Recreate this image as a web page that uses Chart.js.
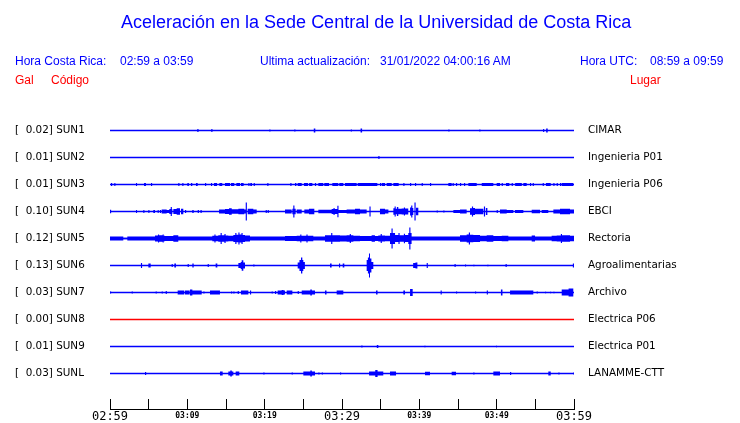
<!DOCTYPE html>
<html>
<head>
<meta charset="utf-8">
<script src="https://cdn.jsdelivr.net/npm/chart.js@4.4.1/dist/chart.umd.min.js"></script>
<style>
  body { margin: 0; background: #fff; }
  #wrap { position: absolute; left: 0; top: 0; width: 740px; height: 423px; }
  .t { position: absolute; font-family: "Liberation Sans", Arial, sans-serif; white-space: pre; line-height: 1; }
  .blue { color: #0000ff; font-size: 12px; }
  .red { color: #ff0000; font-size: 12px; }
  #title { color: #0000ff; font-size: 18px; left: 121px; top: 13px; }
</style>
</head>
<body>
<div id="wrap">
  <canvas id="chart"></canvas>
  <div class="t" id="title">Aceleración en la Sede Central de la Universidad de Costa Rica</div>
  <div class="t blue" style="left:15px;top:55px">Hora Costa Rica:</div>
  <div class="t blue" style="left:120px;top:55px">02:59 a 03:59</div>
  <div class="t blue" style="left:260px;top:55px">Ultima actualización:</div>
  <div class="t blue" style="left:380px;top:55px">31/01/2022 04:00:16 AM</div>
  <div class="t blue" style="left:580px;top:55px">Hora UTC:</div>
  <div class="t blue" style="left:650px;top:55px">08:59 a 09:59</div>
  <div class="t red" style="left:15px;top:74px">Gal</div>
  <div class="t red" style="left:51px;top:74px">Código</div>
  <div class="t red" style="left:630px;top:74px">Lugar</div>
</div>
<script>
// station info, top to bottom
var codes = ["SUN1", "SUN2", "SUN3", "SUN4", "SUN5", "SUN6", "SUN7", "SUN8", "SUN9", "SUNL"];
var gal = ["0.02", "0.01", "0.01", "0.10", "0.12", "0.13", "0.03", "0.00", "0.01", "0.03"];
var places = ["CIMAR", "Ingenieria P01", "Ingenieria P06", "EBCI", "Rectoria",
  "Agroalimentarias", "Archivo", "Electrica P06", "Electrica P01", "LANAMME-CTT"];
var lineColors = ["#0000ff", "#0000ff", "#0000ff", "#0000ff", "#0000ff",
  "#0000ff", "#0000ff", "#ff0000", "#0000ff", "#0000ff"];

// time axis: minutes after 02:59, labels every 10 min
var timeLabels = ["02:59", "03:09", "03:19", "03:29", "03:39", "03:49", "03:59"];

// amplitude envelopes: [start min, end min, half amplitude (fraction of row gap)]
var sun1 = [[11.29, 11.45, 0.06], [13.1, 13.25, 0.06], [20.6, 20.75, 0.04], [23.83, 23.98, 0.04],
  [26.35, 26.55, 0.075], [31.13, 31.28, 0.04], [32.4, 32.6, 0.075], [43.75, 43.9, 0.04],
  [47.76, 47.9, 0.04], [56.0, 56.15, 0.055], [56.4, 56.6, 0.075]];
var sun2 = [[34.7, 34.85, 0.055]];
var sun3 = [[0.13, 0.28, 0.06], [0.56, 0.7, 0.06], [3.36, 3.5, 0.06], [4.4, 4.65, 0.06], [5.3, 5.45, 0.06],
  [8.83, 8.98, 0.06], [9.35, 9.5, 0.06], [10.0, 10.2, 0.06], [10.47, 10.64, 0.06], [11.12, 11.34, 0.06],
  [12.29, 12.44, 0.06], [13.06, 13.2, 0.06], [13.45, 13.84, 0.06], [14.14, 14.52, 0.06], [14.87, 15.52, 0.06],
  [15.65, 16.07, 0.06], [16.34, 16.81, 0.06], [16.94, 17.28, 0.06], [17.89, 18.04, 0.06], [18.14, 18.36, 0.06],
  [18.58, 18.73, 0.06], [20.34, 20.49, 0.06], [23.32, 23.47, 0.06], [23.92, 24.1, 0.06], [24.27, 24.79, 0.06],
  [25.09, 25.6, 0.06], [25.75, 26.17, 0.06], [26.5, 26.65, 0.06], [26.94, 27.58, 0.06], [27.71, 28.32, 0.06],
  [28.75, 29.52, 0.06], [29.65, 30.17, 0.06], [30.39, 31.9, 0.06], [32.03, 34.57, 0.06], [34.91, 35.05, 0.06],
  [35.13, 35.56, 0.06], [35.78, 36.43, 0.06], [36.64, 37.33, 0.06], [37.93, 38.08, 0.06], [38.8, 38.95, 0.06],
  [39.44, 39.59, 0.06], [40.3, 40.45, 0.06], [41.38, 41.53, 0.06], [43.75, 44.18, 0.06], [44.3, 44.45, 0.06],
  [44.74, 44.89, 0.06], [45.26, 45.41, 0.06], [45.78, 45.93, 0.06], [46.34, 47.42, 0.06], [48.07, 49.57, 0.06],
  [50.0, 50.43, 0.06], [50.65, 50.8, 0.06], [51.21, 51.64, 0.06], [51.94, 52.09, 0.06], [52.39, 53.25, 0.06],
  [53.45, 53.88, 0.06], [54.31, 54.46, 0.06], [54.66, 54.81, 0.06], [55.95, 56.1, 0.06], [56.38, 56.99, 0.06],
  [57.33, 57.48, 0.06], [57.76, 57.91, 0.06], [58.19, 58.34, 0.06], [58.41, 59.91, 0.06]];
var sun4 = [[0, 0.15, 0.065], [3.36, 3.5, 0.055], [4.31, 4.45, 0.055], [4.96, 5.1, 0.055], [5.6, 5.82, 0.055],
  [6.16, 6.3, 0.055], [6.45, 6.6, 0.055], [6.68, 7.33, 0.075], [7.33, 7.67, 0.055], [7.67, 7.85, 0.09],
  [7.85, 8.0, 0.17], [8.0, 8.06, 0.09], [8.19, 8.62, 0.09], [8.62, 9.05, 0.12], [9.18, 9.48, 0.1],
  [9.7, 9.85, 0.055], [10.64, 10.82, 0.055], [11.34, 11.5, 0.055], [11.7, 11.86, 0.055], [14.1, 14.87, 0.075],
  [14.87, 15.39, 0.09], [15.39, 15.74, 0.12], [15.74, 16.6, 0.085], [16.6, 17.37, 0.1], [17.37, 17.55, 0.075],
  [17.55, 17.7, 0.33], [17.8, 18.53, 0.1], [18.53, 18.97, 0.075], [20.13, 20.28, 0.055], [20.39, 20.54, 0.055],
  [22.63, 23.49, 0.075], [23.58, 23.7, 0.1], [23.7, 23.85, 0.22], [23.85, 24.01, 0.1], [24.14, 24.79, 0.075],
  [25.13, 25.73, 0.075], [25.73, 26.42, 0.1], [26.94, 28.66, 0.065], [28.66, 28.9, 0.09], [28.9, 29.05, 0.13],
  [29.05, 29.4, 0.09], [29.4, 29.55, 0.21], [29.55, 30.6, 0.06], [30.6, 31.68, 0.075], [31.68, 32.33, 0.1],
  [32.33, 33.19, 0.075], [33.55, 33.7, 0.185], [34.91, 35.56, 0.1], [35.56, 36.0, 0.075], [36.64, 36.8, 0.12],
  [36.8, 36.95, 0.185], [36.95, 37.1, 0.1], [37.1, 37.28, 0.17], [37.28, 37.71, 0.1], [37.71, 38.0, 0.11],
  [38.0, 38.15, 0.15], [38.15, 38.57, 0.11], [38.8, 38.95, 0.15], [38.95, 39.1, 0.22], [39.1, 39.22, 0.13],
  [39.37, 39.52, 0.33], [39.57, 39.87, 0.14], [42.24, 42.39, 0.04], [43.1, 43.25, 0.04], [44.4, 45.26, 0.055],
  [45.26, 46.12, 0.075], [46.55, 46.8, 0.12], [46.8, 46.95, 0.185], [46.95, 47.2, 0.13], [47.2, 47.42, 0.1],
  [47.42, 48.28, 0.1], [48.35, 48.5, 0.185], [48.6, 48.8, 0.13], [50.0, 50.15, 0.055], [50.43, 51.3, 0.075],
  [51.3, 52.15, 0.055], [52.37, 53.45, 0.055], [54.53, 55.61, 0.065], [55.82, 56.68, 0.055], [57.33, 58.19, 0.075],
  [58.19, 59.49, 0.1], [59.49, 60, 0.075]];
var sun5 = [[0, 1.72, 0.075], [1.72, 2.24, 0.03], [2.24, 5.82, 0.075], [5.82, 6.2, 0.11], [6.2, 6.35, 0.15],
  [6.35, 6.8, 0.12], [6.8, 6.95, 0.15], [6.95, 7.11, 0.1], [7.11, 8.19, 0.09], [8.19, 8.83, 0.12],
  [8.83, 13.23, 0.075], [13.23, 13.5, 0.1], [13.5, 13.65, 0.15], [13.65, 14.0, 0.1], [14.0, 14.3, 0.12],
  [14.3, 14.45, 0.2], [14.45, 14.8, 0.12], [14.8, 14.95, 0.17], [14.95, 15.3, 0.11], [15.3, 15.95, 0.1],
  [15.95, 16.2, 0.13], [16.2, 16.35, 0.2], [16.35, 16.6, 0.14], [16.6, 16.75, 0.22], [16.75, 17.0, 0.15],
  [17.0, 17.15, 0.2], [17.15, 17.46, 0.13], [17.46, 18.1, 0.11], [18.1, 22.63, 0.075], [22.63, 24.14, 0.09],
  [24.14, 24.6, 0.1], [24.6, 24.75, 0.15], [24.75, 25.4, 0.1], [25.4, 25.55, 0.15], [25.55, 26.29, 0.1],
  [26.29, 27.8, 0.075], [27.8, 28.6, 0.12], [28.6, 28.75, 0.2], [28.75, 29.74, 0.12], [29.74, 30.6, 0.11],
  [30.6, 31.0, 0.12], [31.0, 31.15, 0.17], [31.15, 31.47, 0.12], [31.47, 32.33, 0.1], [32.33, 33.83, 0.09],
  [33.83, 34.26, 0.12], [34.26, 34.69, 0.09], [34.69, 35.0, 0.11], [35.0, 35.15, 0.17], [35.15, 35.56, 0.11],
  [35.56, 36.21, 0.1], [36.21, 36.4, 0.2], [36.4, 36.55, 0.37], [36.55, 36.86, 0.2], [36.86, 37.3, 0.13],
  [37.3, 37.45, 0.2], [37.45, 38.0, 0.12], [38.0, 38.15, 0.18], [38.15, 38.57, 0.13], [38.57, 38.7, 0.2],
  [38.7, 38.85, 0.41], [38.85, 39.0, 0.2], [39.0, 45.26, 0.075], [45.26, 46.12, 0.12], [46.12, 46.4, 0.15],
  [46.4, 46.55, 0.22], [46.55, 46.98, 0.14], [46.98, 47.85, 0.13], [47.85, 48.71, 0.1], [48.71, 49.57, 0.12],
  [49.57, 50.65, 0.09], [50.65, 51.51, 0.1], [51.51, 54.53, 0.075], [54.53, 54.96, 0.11], [54.96, 57.11, 0.075],
  [57.11, 57.76, 0.1], [57.76, 58.3, 0.11], [58.3, 58.45, 0.17], [58.45, 59.49, 0.12], [59.49, 60, 0.1]];
var sun6 = [[4.0, 4.15, 0.09], [4.96, 5.26, 0.075], [7.97, 8.12, 0.055], [8.32, 8.53, 0.075], [10.04, 10.19, 0.055],
  [10.65, 10.82, 0.075], [12.63, 12.78, 0.055], [13.66, 13.88, 0.075], [16.6, 16.9, 0.09], [16.9, 17.03, 0.13],
  [17.03, 17.24, 0.19], [17.24, 17.46, 0.11], [18.53, 18.68, 0.04], [24.27, 24.5, 0.11], [24.5, 24.7, 0.2],
  [24.7, 24.87, 0.3], [24.87, 25.0, 0.2], [25.0, 25.2, 0.13], [28.45, 28.66, 0.075], [29.61, 29.76, 0.075],
  [30.09, 30.3, 0.075], [33.19, 33.35, 0.2], [33.35, 33.49, 0.3], [33.49, 33.62, 0.44], [33.62, 33.8, 0.26],
  [33.8, 34.05, 0.13], [39.2, 39.5, 0.09], [39.5, 39.75, 0.11], [40.95, 41.1, 0.09], [44.55, 44.7, 0.055],
  [45.9, 46.05, 0.04], [46.98, 47.13, 0.03], [48.79, 48.94, 0.03], [51.15, 51.3, 0.055], [59.85, 60, 0.075]];
var sun7 = [[0, 0.15, 0.04], [2.8, 2.95, 0.04], [5.9, 6.05, 0.04], [6.68, 6.83, 0.04], [7.2, 7.35, 0.055],
  [8.75, 9.61, 0.075], [9.7, 10.3, 0.075], [10.34, 10.65, 0.11], [10.65, 11.86, 0.075], [12.07, 12.22, 0.04],
  [12.93, 14.22, 0.075], [15.65, 15.8, 0.04], [15.95, 16.1, 0.04], [16.51, 16.66, 0.055], [16.94, 17.89, 0.075],
  [18.1, 18.25, 0.075], [20.9, 21.05, 0.04], [21.34, 21.49, 0.055], [21.68, 22.2, 0.075], [22.2, 22.45, 0.09],
  [22.45, 22.63, 0.075], [22.85, 23.58, 0.075], [24.27, 24.42, 0.055], [24.79, 25.9, 0.075], [25.9, 26.1, 0.11],
  [26.1, 26.51, 0.075], [27.8, 28.0, 0.075], [29.31, 30.17, 0.075], [34.4, 34.6, 0.075], [37.93, 38.15, 0.075],
  [38.8, 39.14, 0.13], [42.75, 42.9, 0.075], [44.74, 44.89, 0.04], [47.2, 47.35, 0.04], [48.72, 48.87, 0.075],
  [50.55, 50.75, 0.11], [51.73, 54.74, 0.075], [55.17, 55.32, 0.04], [56.25, 56.4, 0.03], [56.9, 57.05, 0.03],
  [57.33, 57.48, 0.03], [58.41, 59.3, 0.11], [59.3, 59.91, 0.15]];
var sun8 = [];
var sun9 = [[32.5, 32.65, 0.04], [34.5, 34.7, 0.055], [40.65, 40.8, 0.03], [49.9, 50.05, 0.03]];
var sunl = [[4.53, 4.68, 0.055], [14.22, 14.57, 0.075], [15.3, 15.55, 0.075], [15.55, 15.75, 0.11],
  [15.75, 15.95, 0.075], [16.25, 16.72, 0.075], [19.83, 19.98, 0.04], [23.49, 23.64, 0.04], [25.0, 25.9, 0.075],
  [25.9, 26.1, 0.11], [26.1, 26.51, 0.075], [26.94, 27.09, 0.04], [27.38, 27.53, 0.04], [29.74, 29.89, 0.04],
  [33.5, 34.3, 0.075], [34.3, 34.6, 0.13], [34.6, 35.34, 0.075], [36.21, 36.99, 0.075], [40.73, 41.38, 0.065],
  [44.18, 44.74, 0.065], [46.98, 47.13, 0.04], [49.57, 50.43, 0.075], [51.73, 51.88, 0.055], [56.68, 56.99, 0.075],
  [57.98, 58.13, 0.04], [59.91, 60, 0.04]];

var traces = [sun1, sun2, sun3, sun4, sun5, sun6, sun7, sun8, sun9, sunl];
var rows = codes.map(function (c, i) { return i; });

// points for one side of a trace, held flat between samples (stepped line)
function envelope(row, bursts, sign) {
  var pts = [{x: 0, y: row}];
  bursts.forEach(function (b) {
    pts.push({x: b[0], y: row + sign * b[2]});
    pts.push({x: b[1], y: row});
  });
  pts.push({x: 60, y: row});
  return pts;
}

var datasets = [];
traces.forEach(function (t, i) {
  [-1, 1].forEach(function (sign) {
    datasets.push({
      data: envelope(i, t, sign),
      stepped: true,
      order: 1,
      borderWidth: 0,
      borderColor: 'rgba(0,0,0,0)',
      backgroundColor: lineColors[i],
      pointRadius: 0,
      fill: {value: i}
    });
  });
  // the zero line of each trace, drawn on top
  datasets.push({
    data: [{x: 0, y: i}, {x: 60, y: i}],
    order: 0,
    borderColor: lineColors[i],
    backgroundColor: lineColors[i],
    borderWidth: 1.5,
    pointRadius: 0,
    fill: false
  });
});

function rowTicks(axis) {
  axis.ticks = rows.map(function (v) { return {value: v}; });
}

function sideFit(w) {
  return function (s) {
    s.width = w;
    s.paddingTop = 0;
    s.paddingBottom = 0;
  };
}

var labelFont = {family: "'DejaVu Sans', sans-serif", size: 10.4};

var chart = new Chart('chart', {
  type: 'line',
  data: {datasets: datasets},
  options: {
    responsive: true,
    maintainAspectRatio: false,
    animation: false,
    layout: {padding: {left: 15, top: 117, right: 0, bottom: 0}},
    plugins: {legend: {display: false}, tooltip: {enabled: false}},
    scales: {
      x: {
        type: 'linear',
        min: 0,
        max: 60,
        afterFit: function (s) { s.height = 14; },
        border: {display: true, color: '#000', width: 1},
        grid: {drawOnChartArea: false, color: '#000', tickLength: -10},
        ticks: {
          stepSize: 5,
          autoSkip: false,
          maxRotation: 0,
          padding: 12,
          color: '#000',
          font: function (ctx) {
            if (ctx.tick && ctx.tick.value % 30 === 0) {
              return {family: "'DejaVu Sans Mono', monospace", size: 12, lineHeight: 1.0};
            }
            return {family: "'DejaVu Sans Mono', monospace", size: 8, weight: 'bold', lineHeight: 1.3};
          },
          callback: function (v) {
            return v % 10 === 0 ? timeLabels[v / 10] : '';
          }
        }
      },
      y: {
        position: 'left',
        reverse: true,
        min: -0.5,
        max: 10.3148,
        afterBuildTicks: rowTicks,
        afterFit: sideFit(95),
        border: {display: false},
        grid: {display: false, drawTicks: false},
        ticks: {
          crossAlign: 'far',
          color: '#000',
          font: labelFont,
          callback: function (v, idx) { return '[  ' + gal[idx] + '] ' + codes[idx]; }
        }
      },
      y2: {
        position: 'right',
        reverse: true,
        min: -0.5,
        max: 10.3148,
        afterBuildTicks: rowTicks,
        afterFit: sideFit(166),
        border: {display: false},
        grid: {display: false, drawTicks: false},
        ticks: {
          padding: 14,
          color: '#000',
          font: labelFont,
          callback: function (v, idx) { return places[idx]; }
        }
      }
    }
  }
});
</script>
</body>
</html>
